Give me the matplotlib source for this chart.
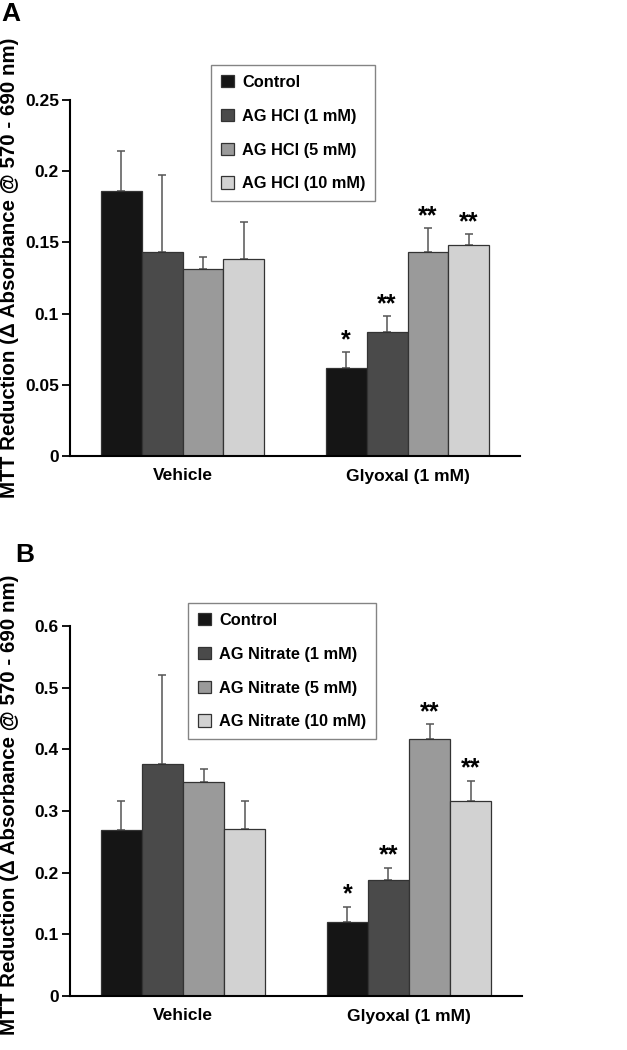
import matplotlib
matplotlib.use("Agg")
import matplotlib.pyplot as plt
import numpy as np

plt.rcParams['font.family'] = ['Liberation Sans', 'DejaVu Sans']
plt.rcParams['font.weight'] = 'bold'

groups = ['Vehicle', 'Glyoxal (1 mM)']
colors = ['#151515', '#4a4a4a', '#9a9a9a', '#d2d2d2']

# panel A
labels_a = ['Control', 'AG HCl (1 mM)', 'AG HCl (5 mM)', 'AG HCl (10 mM)']
means_a = [[0.186, 0.143, 0.131, 0.138],
           [0.0615, 0.087, 0.143, 0.148]]
errs_a = [[0.028, 0.054, 0.009, 0.026],
          [0.0115, 0.011, 0.017, 0.008]]
stars_a = [['', '', '', ''], ['*', '**', '**', '**']]

# panel B
labels_b = ['Control', 'AG Nitrate (1 mM)', 'AG Nitrate (5 mM)', 'AG Nitrate (10 mM)']
means_b = [[0.269, 0.377, 0.347, 0.271],
           [0.120, 0.188, 0.417, 0.316]]
errs_b = [[0.048, 0.143, 0.021, 0.045],
          [0.025, 0.020, 0.024, 0.033]]
stars_b = [['', '', '', ''], ['*', '**', '**', '**']]

fig = plt.figure(figsize=(6.27, 10.5), dpi=100)
W, H = 627, 1050


def panel(rect, means, errs, stars, labels, ymax, ystep, yfmt, leg_xy):
    ax = fig.add_axes(rect)
    width = 0.182
    x = np.arange(len(groups))
    handles = []
    for i in range(4):
        pos = x + (i - 1.5) * width
        vals = [means[g][i] for g in range(len(groups))]
        ers = [errs[g][i] for g in range(len(groups))]
        b = ax.bar(pos, vals, width, color=colors[i], edgecolor='#333333',
                   linewidth=0.9, label=labels[i], zorder=2)
        ax.errorbar(pos, vals, yerr=[np.zeros(len(vals)), ers], fmt='none',
                    ecolor='#555555', elinewidth=1.1, capsize=3, capthick=1.1,
                    zorder=1)
        handles.append(b)
        for g in range(len(groups)):
            if stars[g][i]:
                ax.annotate(stars[g][i], (pos[g], vals[g] + ers[g]),
                            xytext=(0, 0), textcoords='offset points',
                            ha='center', va='bottom', fontsize=18,
                            fontweight='bold')
    ax.set_xlim(-0.5, 1.5)
    ax.set_ylim(0, ymax)
    ticks = np.arange(0, ymax + ystep / 2, ystep)
    ax.set_yticks(ticks)
    ax.set_yticklabels([yfmt(t) for t in ticks], fontsize=12.5, fontweight='bold')
    ax.set_xticks(x)
    ax.set_xticklabels(groups, fontsize=12.5, fontweight='bold')
    ax.tick_params(axis='x', length=0, pad=9)
    ax.tick_params(axis='y', direction='out', length=6, width=1.3, pad=2)
    for s in ['top', 'right']:
        ax.spines[s].set_visible(False)
    for s in ['left', 'bottom']:
        ax.spines[s].set_linewidth(1.5)
    leg = ax.legend(handles=handles, loc='upper left',
                    bbox_to_anchor=leg_xy, bbox_transform=fig.transFigure,
                    fancybox=False, frameon=True, edgecolor='#666666',
                    fontsize=11.8, handlelength=0.8, handleheight=0.8,
                    handletextpad=0.5, labelspacing=1.15, borderpad=0.6,
                    borderaxespad=0)
    leg.get_frame().set_linewidth(1.0)
    for t in leg.get_texts():
        t.set_fontweight('bold')
    return ax


def fmt(t):
    if abs(t) < 1e-9:
        return '0'
    return ('%.2f' % t).rstrip('0')


panel([70 / W, 1 - 456 / H, 450 / W, 356 / H], means_a, errs_a, stars_a,
      labels_a, 0.25, 0.05, fmt, (211 / W, 1 - 65 / H))
panel([70 / W, 1 - 996 / H, 452 / W, 370 / H], means_b, errs_b, stars_b,
      labels_b, 0.6, 0.1, lambda t: '0' if t < 1e-9 else '%.1f' % t,
      (188 / W, 1 - 603 / H))

ylab = 'MTT Reduction (\u0394 Absorbance @ 570 - 690 nm)'
fig.text(10 / W, 1 - 268 / H, ylab, rotation=90, ha='center', va='center',
         fontsize=14.8, fontweight='bold')
fig.text(10 / W, 1 - 805 / H, ylab, rotation=90, ha='center', va='center',
         fontsize=14.8, fontweight='bold')
fig.text(11 / W, 1 - 14 / H, 'A', ha='center', va='center', fontsize=19,
         fontweight='bold')
fig.text(25 / W, 1 - 555 / H, 'B', ha='center', va='center', fontsize=19,
         fontweight='bold')

fig.savefig('out.png', dpi=100)
